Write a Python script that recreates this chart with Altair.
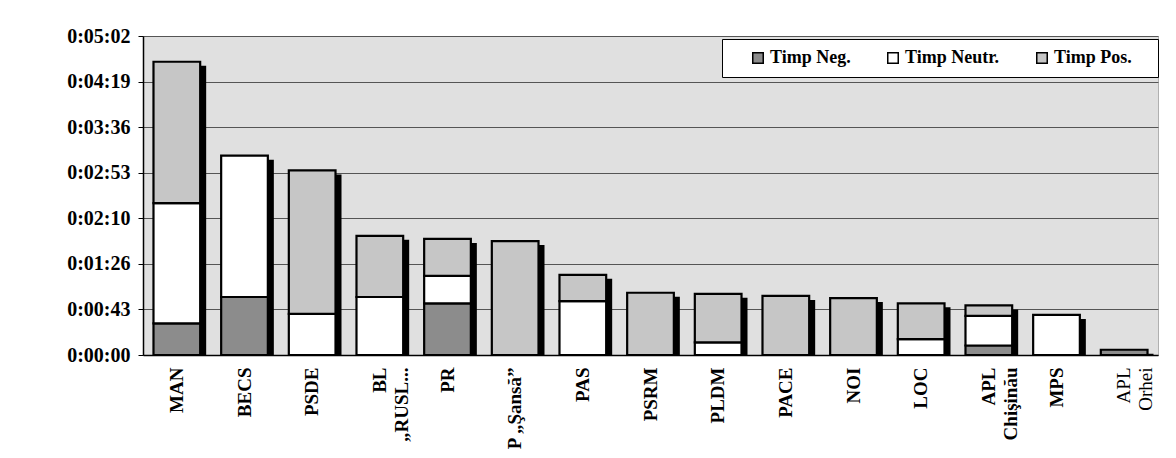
import altair as alt
import pandas as pd

categories = ["MAN", "BECS", "PSDE", "BL\n„RUSL...", "PR", "P „Şansă”", "PAS", "PSRM",
              "PLDM", "PACE", "NOI", "LOC", "APL\nChişinău", "MPS", "APL\nOrhei"]
# durations in seconds
neg = [30, 55, 0, 0, 49, 0, 0, 0, 0, 0, 0, 0, 9, 0, 5]
neu = [114, 134, 39, 55, 26, 0, 51, 0, 12, 0, 0, 15, 28, 38, 0]
pos = [134, 0, 136, 58, 35, 108, 25, 59, 46, 56, 54, 34, 10, 0, 0]
series = ["Timp Neg.", "Timp Neutr.", "Timp Pos."]
colors = ["#8c8c8c", "#ffffff", "#c6c6c6"]
y_ticks = [0, 43.2, 86.4, 129.6, 172.8, 216.0, 259.2, 302.4]

rows = []
for i, c in enumerate(categories):
    for k, (s, vals) in enumerate(zip(series, [neg, neu, pos])):
        rows.append({"cat": c, "series": s, "value": vals[i], "k": k})
df = pd.DataFrame(rows)

font = "Liberation Serif"

xenc = alt.X(
    "cat:N", sort=categories,
    scale=alt.Scale(paddingInner=0.31, paddingOuter=0.155),
    axis=alt.Axis(title=None, labelAngle=-90, labelExpr="split(datum.label, '\\n')",
                  labelFont=font, labelFontSize=19,
                  labelFontWeight={"condition": {"test": "indexof(datum.value, 'Orhei') >= 0",
                                                 "value": "normal"},
                                   "value": "bold"},
                  labelColor="black", ticks=False, domainColor="black", domainWidth=1.5,
                  labelPadding=12, labelLineHeight=22),
)
yscale = alt.Scale(domain=[0, 302.4], nice=False, zero=True)
yaxis = alt.Axis(title=None, values=y_ticks,
                 labelExpr="utcFormat(round(datum.value) * 1000, '%-H:%M:%S')",
                 labelFont=font, labelFontSize=20, labelFontWeight="bold", labelColor="black",
                 gridColor="#555555", gridWidth=1, domainColor="black", domainWidth=1.5,
                 tickColor="black", tickSize=5, labelPadding=8)

shadow = alt.Chart(df).mark_bar(color="black", xOffset=6, yOffset=4).encode(
    x=xenc,
    y=alt.Y("sum(value):Q", scale=yscale, axis=yaxis),
)

bars = alt.Chart(df).transform_filter("datum.value > 0").mark_bar(
    stroke="black", strokeWidth=2.2
).encode(
    x=xenc,
    y=alt.Y("value:Q", stack="zero", scale=yscale, axis=yaxis),
    color=alt.Color("series:N", scale=alt.Scale(domain=series, range=colors),
                    legend=alt.Legend(title="\u00a0", titleOrient="right", titlePadding=16,
                                      titleFontSize=18,
                                      orient="none", legendX=579, legendY=3,
                                      direction="horizontal", columns=3,
                                      fillColor="white", strokeColor="black", padding=10,
                                      symbolType="square", symbolSize=110,
                                      symbolStrokeColor="black", symbolStrokeWidth=1.5,
                                      labelFont=font, labelFontSize=18,
                                      labelFontWeight="bold", labelColor="black",
                                      columnPadding=16, symbolOffset=17, gridAlign="each",
                                      labelOffset=3)),
    order=alt.Order("k:Q"),
)

chart = alt.layer(shadow, bars).properties(
    width=1015, height=319,
    padding={"left": 135, "top": 28, "right": 10, "bottom": 103},
    autosize=alt.AutoSizeParams(type="none"),
).configure_view(fill="#e0e0e0", stroke="#b0b0b0", strokeWidth=1)

chart.save("out.html", embed_options={"renderer": "svg", "actions": False})
